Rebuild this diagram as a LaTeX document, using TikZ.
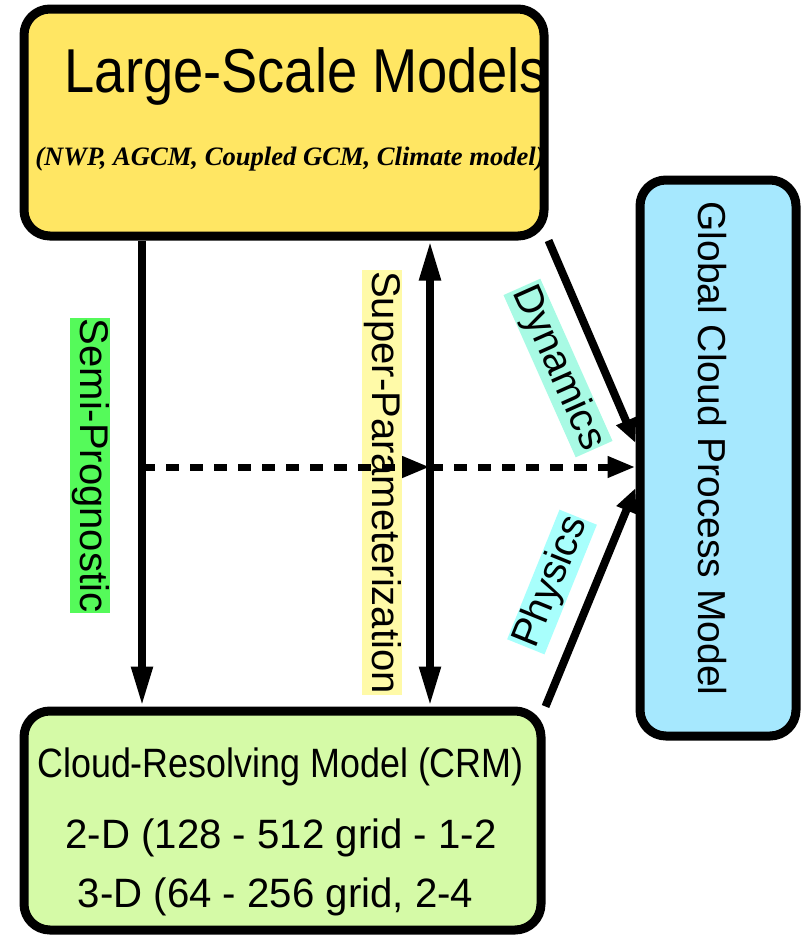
\documentclass[tikz,border=0pt]{standalone}
\usepackage{fontspec}
\setmainfont{Liberation Sans}
\newfontfamily\serifbi{Liberation Serif}
\usetikzlibrary{arrows.meta,calc}
\definecolor{lsmfill}{HTML}{FFE663}
\definecolor{gcpfill}{HTML}{A6E8FE}
\definecolor{crmfill}{HTML}{D5FAA7}
\definecolor{semigreen}{HTML}{55FA5A}
\definecolor{superyellow}{HTML}{FFFAA8}
\definecolor{dynfill}{HTML}{A8FAE4}
\definecolor{physfill}{HTML}{A8FFFC}
\begin{document}
\begin{tikzpicture}[x=1pt,y=-1pt,
  box/.style={draw=black, line width=9pt, rounded corners=26pt, inner sep=0pt},
  big/.style={font=\fontsize{40}{48}\selectfont},
  fatarrow/.style={line width=8pt, -{Triangle[length=40pt,width=20pt]}},
  fatboth/.style={line width=8pt, {Triangle[length=40pt,width=20pt]}-{Triangle[length=40pt,width=20pt]}},
  dasharrow/.style={line width=7pt, dash pattern=on 13pt off 11pt, -{Triangle[length=28pt,width=20pt]}},
  slantarrow/.style={line width=8pt, -{Triangle[length=24pt,width=20pt]}},
  lbl/.style={big, inner xsep=1pt, inner ysep=1.5pt}
]
\useasboundingbox (0,0) rectangle (801,940);

% boxes
\node[box, fill=lsmfill, minimum width=520pt, minimum height=227pt] (lsm) at (284,122.5) {};
\node[box, fill=gcpfill, minimum width=156pt, minimum height=556pt] (gcp) at (718,458) {};
\node[box, fill=crmfill, minimum width=517pt, minimum height=219pt] (crm) at (282.5,820.5) {};

% box texts
\node[anchor=base, font=\fontsize{62}{70}\selectfont] (lsmtitle) at (306,92) {\scalebox{0.875}[1]{Large-Scale Models}};
\node[anchor=base, font=\serifbi\bfseries\itshape\fontsize{26.6}{30}\selectfont] (lsmsub) at (290,165) {(NWP, AGCM, Coupled GCM, Climate model)};
\node[rotate=-90, anchor=base, font=\fontsize{39}{46}\selectfont] (gcptext) at (698,448.5) {Global Cloud Process Model};
\node[anchor=base, font=\fontsize{41}{48}\selectfont] (crm1) at (280.5,777) {\scalebox{0.875}[1]{Cloud-Resolving Model (CRM)}};
\node[anchor=base, font=\fontsize{41}{48}\selectfont] (crm2) at (281,848) {\scalebox{0.98}[1]{2-D (128 - 512 grid - 1-2}};
\node[anchor=base, font=\fontsize{41}{48}\selectfont] (crm3) at (275.5,907) {\scalebox{0.98}[1]{3-D (64 - 256 grid, 2-4}};

% labels
\node[lbl, rotate=-90, anchor=base, fill=semigreen] (semi) at (80,465.5) {Semi-Prognostic};
\node[lbl, rotate=-90, anchor=base, fill=superyellow] (super) at (372,482.5) {Super-Parameterization};
\node[lbl, rotate=-66, fill=dynfill] (dyn) at (558,368) {Dynamics};
\node[lbl, rotate=68, fill=physfill] (phys) at (552,582) {Physics};

% connectors
\coordinate (sx) at (142,0);
\coordinate (dx) at (430,0);
\coordinate (mid) at (142,467);
\coordinate (dyntip) at (0,443);
\coordinate (phytip) at (0,488);
\draw[fatarrow] (sx |- lsm.south) -- (sx |- crm.north);
\draw[fatboth] (dx |- lsm.south) -- (dx |- crm.north);
\draw[dasharrow] (mid) -- (mid -| dx);
\draw[dasharrow] (mid -| dx) -- (mid -| gcp.west);
\draw[slantarrow] (lsm.south east) -- (gcp.west |- dyntip);
\draw[slantarrow] (crm.north east) -- (gcp.west |- phytip);
\end{tikzpicture}
\end{document}
